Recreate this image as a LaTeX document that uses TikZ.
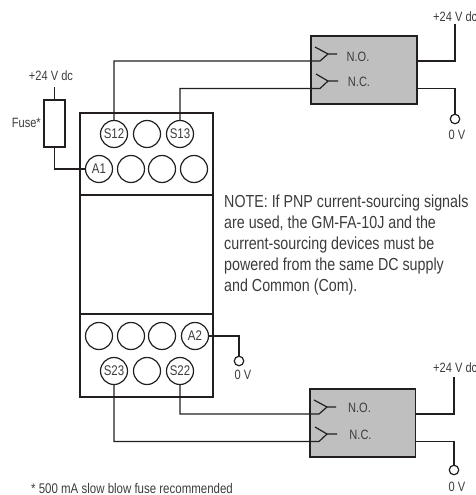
\documentclass[tikz,border=0pt]{standalone}
\usepackage{fontspec}
\setmainfont[FakeStretch=0.82]{Liberation Sans}
\definecolor{ink}{HTML}{231F20}
\definecolor{txt}{HTML}{3C3C3C}
\tikzset{
 wire/.style={draw=ink,line width=1.2pt,line join=miter},
 term/.style={circle,draw=ink,line width=1.2pt,minimum size=27pt,inner sep=0pt,font=\fontsize{14}{14}\selectfont,text=txt},
 lab/.style={inner sep=0pt,font=\fontsize{13.5}{13.5}\selectfont,text=txt},
 gnd/.style={circle,draw=ink,line width=1.2pt,minimum size=9.5pt,inner sep=0pt,fill=white},
 box/.style={draw=ink,line width=1.2pt},
 relay/.style={draw=ink,line width=1.2pt,fill=black!25},
}
\begin{document}
\begin{tikzpicture}[x=1pt,y=-1pt]
\useasboundingbox (0,0) rectangle (476,495);
% main body
\draw[box] (80,113) rectangle (213,397);
\draw[box] (80,195) -- (213,195);
\draw[box] (80,314) -- (213,314);
% terminals
\node[term] (S12) at (114,134) {S12};
\node[term] (e1) at (147,134) {};
\node[term] (S13) at (180,134) {S13};
\node[term] (A1) at (99,169) {A1};
\node[term] (e2) at (131,169) {};
\node[term] (e3) at (162,169) {};
\node[term] (e4) at (194,169) {};
\node[term] (e5) at (99,336) {};
\node[term] (e6) at (131,336) {};
\node[term] (e7) at (162,336) {};
\node[term] (A2) at (195,336) {A2};
\node[term] (S23) at (114,371) {S23};
\node[term] (e8) at (147,371) {};
\node[term] (S22) at (180,371) {S22};
% fuse
\node[box,minimum width=21pt,minimum height=47pt,inner sep=0pt] (fuse) at (54.5,123.5) {};
\node[lab,anchor=east] (fuselab) at (41,123) {Fuse*};
\node[lab] (p1) at (51,76) {+24 V dc};
\coordinate (p1w) at (54.5,87);
\draw[wire] (p1w) -- (fuse.north);
\draw[wire] (fuse.south) |- (A1.west);
% A2 ground
\node[gnd] (g1) at (239,361) {};
\node[lab] (g1l) at (243,375) {0 V};
\draw[wire] (A2.east) -| (g1.north);
% top relay
\node[relay,minimum width=106pt,minimum height=68pt,inner sep=0pt] (R1) at (364,70) {};
\node[lab] (no1) at (358,56.5) {N.O.};
\node[lab] (nc1) at (359,81.5) {N.C.};
\coordinate (a1) at (320,61); \coordinate (b1) at (328,54); \coordinate (c1) at (337,54); \coordinate (d1) at (315,47);
\coordinate (a2) at (320,88.5); \coordinate (b2) at (328,81); \coordinate (c2) at (338,81); \coordinate (d2) at (316,74);
\draw[wire] (S12.north) |- (a1) -- (b1) -- (c1);
\draw[wire] (d1) -- (b1);
\draw[wire] (S13.north) |- (a2) -- (b2) -- (c2);
\draw[wire] (d2) -- (b2);
\node[lab,anchor=west] (p2) at (433,16.5) {+24 V dc};
\coordinate (p2w) at (455,24);
\draw[wire] (R1.east |- a1) -| (p2w);
\node[gnd] (g2) at (455,119) {};
\node[lab] (g2l) at (457,135) {0 V};
\draw[wire] (R1.east |- a2) -| (g2.north);
% note
\node[lab,anchor=north west,align=left,font=\fontsize{17.4}{21}\selectfont] (note) at (224,195) {NOTE: If PNP current-sourcing signals\\are used, the GM-FA-10J and the\\current-sourcing devices must be\\powered from the same DC supply\\and Common (Com).};
% bottom relay
\node[relay,minimum width=105.5pt,minimum height=68pt,inner sep=0pt] (R2) at (362.8,423) {};
\node[lab] (no2) at (359.5,408) {N.O.};
\node[lab] (nc2) at (360.5,435) {N.C.};
\coordinate (a3) at (319,414); \coordinate (b3) at (327,407); \coordinate (c3) at (336,407); \coordinate (d3) at (314,400);
\coordinate (a4) at (319,441.5); \coordinate (b4) at (327,434); \coordinate (c4) at (337,434); \coordinate (d4) at (315,427);
\draw[wire] (S22.south) |- (a3) -- (b3) -- (c3);
\draw[wire] (d3) -- (b3);
\draw[wire] (S23.south) |- (a4) -- (b4) -- (c4);
\draw[wire] (d4) -- (b4);
\node[lab,anchor=west] (p3) at (433,368) {+24 V dc};
\coordinate (p3w) at (454,377);
\draw[wire] (R2.east |- a3) -| (p3w);
\node[gnd] (g3) at (454,470) {};
\node[lab] (g3l) at (457,487) {0 V};
\draw[wire] (R2.east |- a4) -| (g3.north);
% footnote
\node[lab,anchor=west,font=\fontsize{14}{14}\selectfont] (foot) at (31,488) {* 500 mA slow blow fuse recommended};
\end{tikzpicture}
\end{document}
